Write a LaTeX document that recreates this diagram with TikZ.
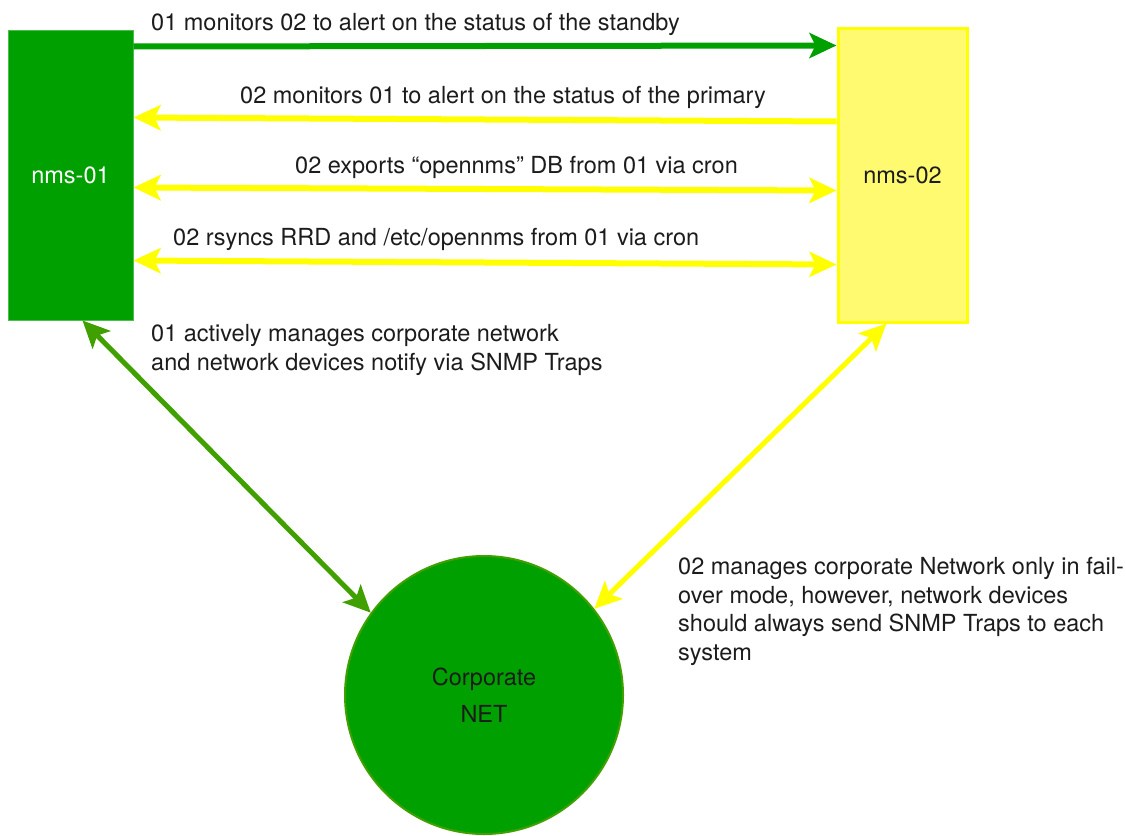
\documentclass[tikz,border=0pt]{standalone}
\usepackage{fontspec}
\setmainfont{TeX Gyre Heros}
\usetikzlibrary{arrows.meta}
\definecolor{nmsgreen}{RGB}{0,160,0}
\definecolor{linkgreen}{RGB}{64,160,0}
\definecolor{nmsyellow}{RGB}{255,250,112}
\definecolor{lineyellow}{RGB}{255,255,0}
\definecolor{txt}{RGB}{28,28,28}
\begin{document}
\begin{tikzpicture}[x=1pt,y=1pt,
  tip/.style={-{Stealth[length=27pt,width=25pt,inset=6pt]}},
  dtip/.style={{Stealth[length=27pt,width=25pt,inset=6pt]}-{Stealth[length=27pt,width=25pt,inset=6pt]}},
  garrow/.style={tip,draw=nmsgreen,fill=nmsgreen,line width=6pt},
  yarrow/.style={tip,draw=lineyellow,fill=lineyellow,line width=6pt},
  ydarrow/.style={dtip,draw=lineyellow,fill=lineyellow,line width=6pt},
  lbl/.style={inner sep=0pt,text=txt,font=\fontsize{23.5}{28.5}\selectfont,align=left},
  box1/.style={rectangle,fill=nmsgreen,draw=nmsgreen!70!white,line width=1pt,minimum width=125pt,minimum height=290pt,inner sep=0pt,text=white,font=\fontsize{23.5}{28.5}\selectfont},
  box2/.style={rectangle,fill=nmsyellow,draw=lineyellow,line width=3pt,minimum width=129pt,minimum height=294pt,inner sep=0pt,text=txt,font=\fontsize{23.5}{28.5}\selectfont},
  net/.style={circle,fill=nmsgreen,draw=linkgreen,line width=2pt,minimum size=278pt,inner sep=0pt,text=txt,align=center,font=\fontsize{23.5}{36.5}\selectfont}
]
\useasboundingbox (0,0) rectangle (1126,-835);
\node[box1] (n1) at (70.5,-175) {nms-01};
\node[box2] (n2) at (902.5,-175) {nms-02};
\node[net] (n3) at (484,-695) {Corporate\\NET};

\draw[garrow] ([yshift=-17pt]n1.north east) -- ([yshift=-19pt]n2.north west);
\draw[yarrow] ([yshift=-95pt]n2.north west) -- ([yshift=-88pt]n1.north east);
\draw[ydarrow] ([yshift=-158pt]n1.north east) -- ([yshift=-164pt]n2.north west);
\draw[ydarrow] ([yshift=-231pt]n1.north east) -- ([yshift=-238pt]n2.north west);
\draw[dtip,draw=linkgreen,fill=linkgreen,line width=5pt] ([xshift=75pt]n1.south west) -- (n3.144);
\draw[dtip,draw=lineyellow,fill=lineyellow,line width=5pt] ([xshift=50pt]n2.south west) -- (n3.38);

\node[lbl,anchor=base west] (t1) at (151,-30) {01 monitors 02 to alert on the status of the standby};
\node[lbl,anchor=base west] (t2) at (240,-103) {02 monitors 01 to alert on the status of the primary};
\node[lbl,anchor=base west] (t3) at (295,-173) {02 exports “opennms” DB from 01 via cron};
\node[lbl,anchor=base west] (t4) at (173,-245) {02 rsyncs RRD and /etc/opennms from 01 via cron};
\node[lbl,anchor=base west] (t5) at (151,-370) {01 actively manages corporate network\\and network devices notify via SNMP Traps};
\node[lbl,anchor=base west] (t6) at (678,-660) {02 manages corporate Network only in fail-\\over mode, however, network devices\\should always send SNMP Traps to each\\system};
\end{tikzpicture}
\end{document}
